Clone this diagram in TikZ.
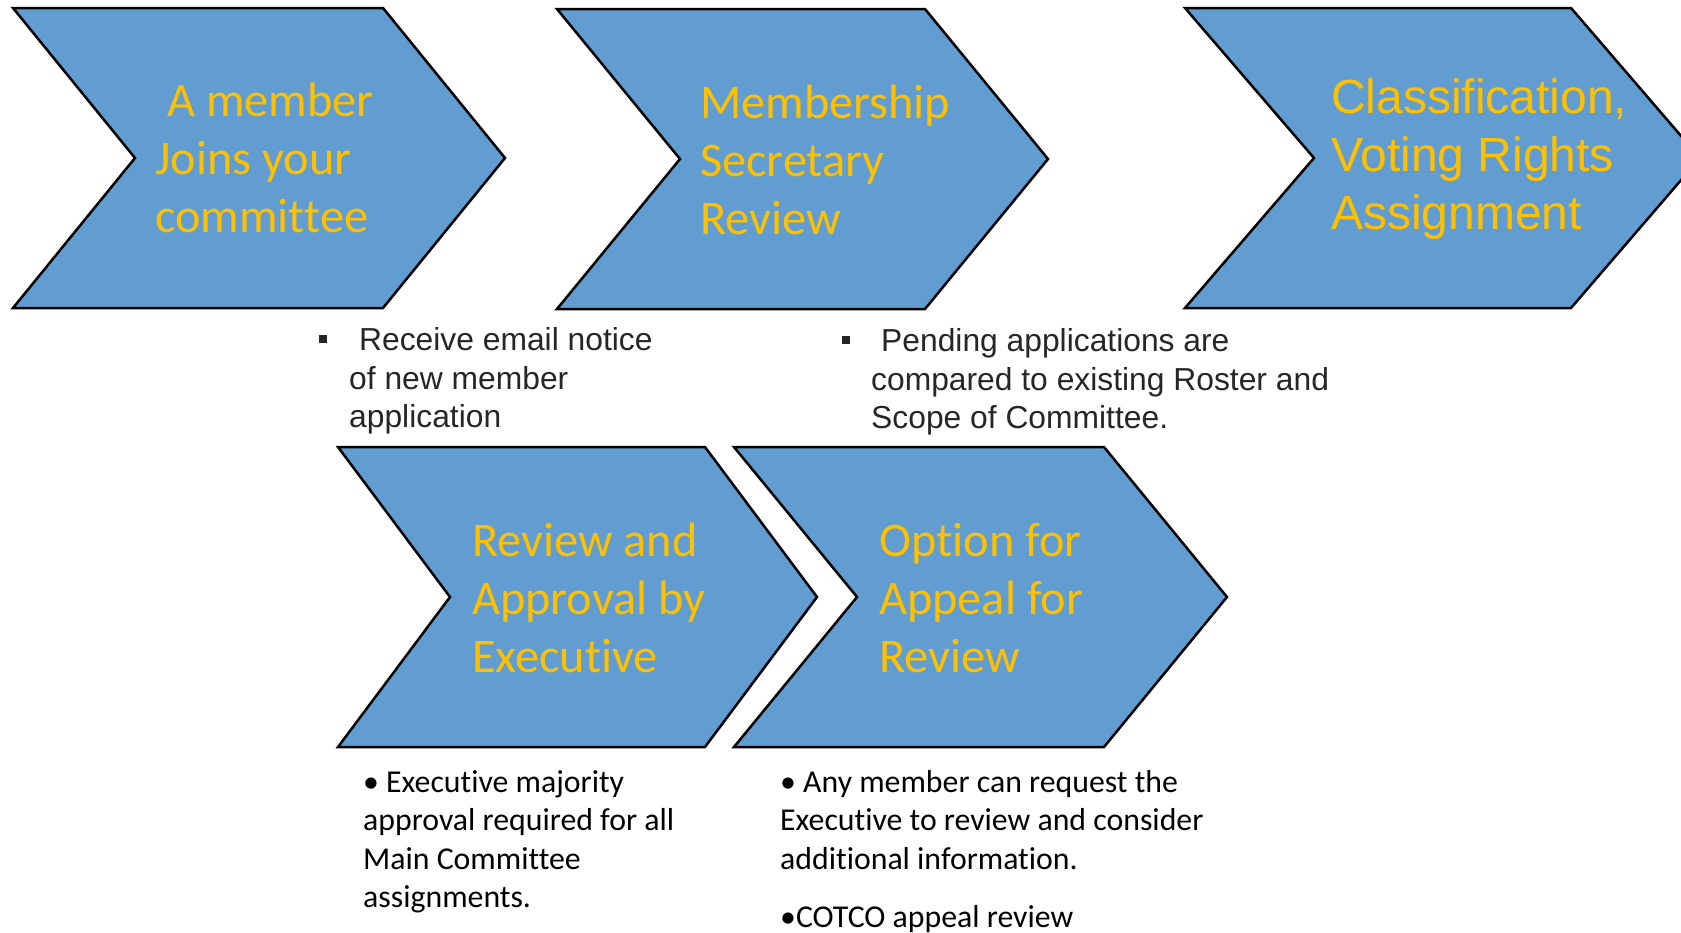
\documentclass[tikz,border=0pt]{standalone}
\usepackage{fontspec}
\usepackage{tikz}
\usepackage{color}
\setmainfont[Ligatures=NoCommon]{Carlito}
\newfontfamily\arialfont[Ligatures=NoCommon]{Liberation Sans}
\definecolor{chevblue}{RGB}{98,157,209}
\definecolor{chevgold}{RGB}{255,192,0}
\definecolor{notegray}{RGB}{38,38,38}

\begin{document}
\begin{tikzpicture}[x=1pt, y=-1pt,
  chev/.style={draw=black, line width=2.5pt, fill=chevblue, line join=miter},
  chevtext/.style={anchor=west, align=left, inner sep=0pt, text=chevgold, font=\fontsize{48.3}{58}\selectfont},
  note/.style={anchor=west, align=left, inner sep=0pt, text=notegray, font=\arialfont\fontsize{31.8}{38.6}\selectfont},
  bnote/.style={anchor=north west, align=left, inner sep=0pt, font=\fontsize{31.8}{38.6}\selectfont}]

  \useasboundingbox (0,0) rectangle (1681,932);
  \clip (0,0) rectangle (1681,932);

  % the five chevrons
  \foreach \x/\y/\w/\d in {13/8/370/122, 557/9/368/123, 1185/8/386/129, 338/447/367/112, 734/447/370/123}
    \draw[chev] (\x,\y) -- ++(\w,0) -- ++(\d,150) -- ++(-\d,150) -- ++(-\w,0) -- ++(\d,-150) -- cycle;

  \node[chevtext] (c1) at (155,158) {\hspace*{12pt}A member\\Joins your\\committee};
  \node[chevtext] (c2) at (700,160) {Membership\\Secretary\\Review};
  \node[chevtext, font=\arialfont\fontsize{48}{58}\selectfont] (c3) at (1331,159) {Classification,\\Voting Rights\\Assignment};
  \node[chevtext] (c4) at (472,598) {Review and\\Approval by\\Executive};
  \node[chevtext] (c5) at (879,598) {Option for\\Appeal for\\Review};

  \node[note] (n1) at (319,381) {\rule[8pt]{7.5pt}{7.5pt}\hspace*{32.5pt}Receive email notice\\\hspace*{30pt}of new member\\\hspace*{30pt}application};
  \node[note] (n2) at (842,382) {\rule[8pt]{7.5pt}{7.5pt}\hspace*{31.5pt}Pending applications are\\\hspace*{29pt}compared to existing Roster and\\\hspace*{29pt}Scope of Committee.};
  \node[bnote] (n3) at (363,770) {\textbullet{} Executive majority\\approval required for all\\Main Committee\\assignments.};
  \node[bnote] (n4) at (780,770) {\textbullet{} Any member can request the\\Executive to review and consider\\additional information.\\[19pt]\textbullet COTCO appeal review};
\end{tikzpicture}
\end{document}
